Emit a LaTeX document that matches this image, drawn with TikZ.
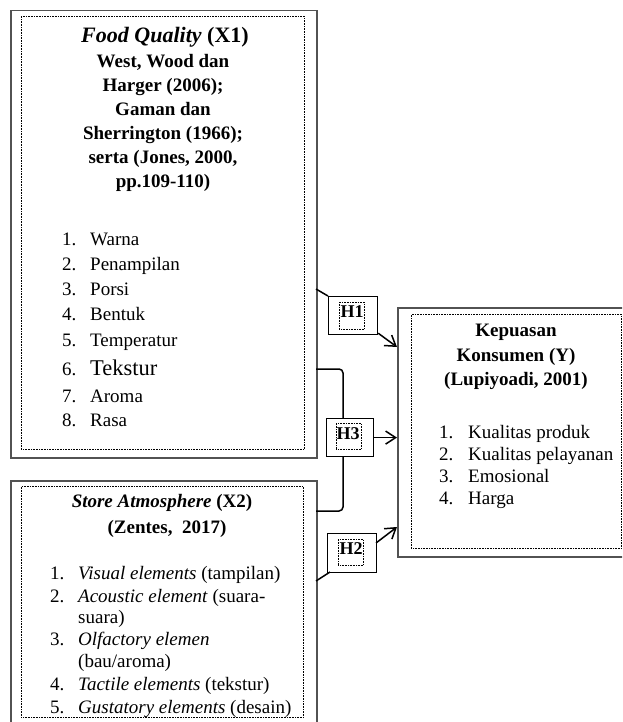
\documentclass[tikz,border=0pt]{standalone}
\usepackage{fontspec}
\setmainfont{Liberation Serif}
\usetikzlibrary{arrows.meta}
\begin{document}
\begin{tikzpicture}[x=1pt,y=-1pt,
  outerbox/.style={draw=black!68, line width=1.5pt, inner sep=0pt, anchor=north west},
  innerbox/.style={draw=black, line width=0.8pt, dash pattern=on 0.8pt off 0.8pt, inner sep=0pt, anchor=north west},
  hbox/.style={draw=black, line width=1.2pt, fill=white, inner sep=0pt, anchor=north west},
  txt/.style={inner sep=0pt, font=\fontsize{19}{24}\selectfont},
  ttl/.style={inner sep=0pt, anchor=base, font=\fontsize{19}{24}\selectfont\bfseries},
  lst/.style={txt, anchor=base west},
  conn/.style={line width=1.5pt},
  arr/.style={conn, -{Straight Barb[length=10pt,width=13pt,line width=1.5pt]}}
]
\useasboundingbox (0,0) rectangle (622,722);
\clip (0,0) rectangle (622,722);

% ---------- Box X1 ----------
\node[outerbox, minimum width=306pt, minimum height=447pt] (X1) at (10,10) {};
\node[innerbox, minimum width=283pt, minimum height=433pt] (X1i) at (21,16) {};
\node[ttl, font=\fontsize{22}{24}\selectfont\bfseries] (t11) at (165,43) {\textit{Food Quality} (X1)};
\node[ttl] (t12) at (163,67.5) {West, Wood dan};
\node[ttl] (t13) at (163,91.5) {Harger (2006);};
\node[ttl] (t14) at (163,115.5) {Gaman dan};
\node[ttl] (t15) at (163,139.5) {Sherrington (1966);};
\node[ttl] (t16) at (163,163.5) {serta (Jones, 2000,};
\node[ttl] (t17) at (163,187.5) {pp.109-110)};

\node[lst] (n11) at (62,245) {1.};  \node[lst] (l11) at (90,245) {Warna};
\node[lst] (n12) at (62,270) {2.};  \node[lst] (l12) at (90,270) {Penampilan};
\node[lst] (n13) at (62,295) {3.};  \node[lst] (l13) at (90,295) {Porsi};
\node[lst] (n14) at (62,320) {4.};  \node[lst] (l14) at (90,320) {Bentuk};
\node[lst] (n15) at (62,346) {5.};  \node[lst] (l15) at (90,346) {Temperatur};
\node[lst] (n16) at (62,375) {6.};  \node[lst, font=\fontsize{22.5}{26}\selectfont] (l16) at (90,375) {Tekstur};
\node[lst] (n17) at (62,402) {7.};  \node[lst] (l17) at (90,402) {Aroma};
\node[lst] (n18) at (62,426) {8.};  \node[lst] (l18) at (90,426) {Rasa};

% ---------- Box X2 ----------
\node[outerbox, minimum width=306pt, minimum height=260pt] (X2) at (10,480) {};
\node[innerbox, minimum width=282pt, minimum height=231pt] (X2i) at (21,486) {};
\node[ttl] (t21) at (162,507) {\textit{Store Atmosphere} (X2)};
\node[ttl] (t22) at (167,533) {(Zentes,\ \ 2017)};

\node[lst] (n21) at (50,579) {1.};  \node[lst] (l21) at (78,579) {\textit{Visual elements} (tampilan)};
\node[lst] (n22) at (50,602) {2.};  \node[lst] (l22) at (78,602) {\textit{Acoustic element} (suara-};
\node[lst] (l22b) at (78,623) {suara)};
\node[lst] (n23) at (50,645) {3.};  \node[lst] (l23) at (78,645) {\textit{Olfactory elemen}};
\node[lst] (l23b) at (78,667) {(bau/aroma)};
\node[lst] (n24) at (50,690) {4.};  \node[lst] (l24) at (78,690) {\textit{Tactile elements} (tekstur)};
\node[lst] (n25) at (50,713) {5.};  \node[lst] (l25) at (78,713) {\textit{Gustatory elements} (desain)};

% ---------- Box Y ----------
\node[outerbox, minimum width=240pt, minimum height=249pt] (Y) at (397,307) {};
\node[innerbox, minimum width=210pt, minimum height=234pt] (Yi) at (411,314) {};
\node[ttl] (ty1) at (516,336) {Kepuasan};
\node[ttl] (ty2) at (516,361) {Konsumen (Y)};
\node[ttl] (ty3) at (516,385) {(Lupiyoadi, 2001)};
\node[lst] (ny1) at (439,438) {1.};  \node[lst] (ly1) at (468,438) {Kualitas produk};
\node[lst] (ny2) at (439,460) {2.};  \node[lst] (ly2) at (468,460) {Kualitas pelayanan};
\node[lst] (ny3) at (439,482) {3.};  \node[lst] (ly3) at (468,482) {Emosional};
\node[lst] (ny4) at (439,504) {4.};  \node[lst] (ly4) at (468,504) {Harga};

% ---------- Hypothesis boxes ----------
\node[hbox, minimum width=49pt, minimum height=38pt] (H1) at (328,296) {};
\node[innerbox, minimum width=25pt, minimum height=27pt] (H1i) at (339,302) {};
\node[ttl, font=\fontsize{18}{22}\selectfont\bfseries] (h1t) at (352,317) {H1};

\node[hbox, minimum width=47pt, minimum height=38pt] (H3) at (326,418) {};
\node[innerbox, minimum width=25pt, minimum height=26pt] (H3i) at (336,423) {};
\node[ttl, font=\fontsize{18}{22}\selectfont\bfseries] (h3t) at (348,439) {H3};

\node[hbox, minimum width=49pt, minimum height=39pt] (H2) at (327,533) {};
\node[innerbox, minimum width=25pt, minimum height=26pt] (H2i) at (338,539) {};
\node[ttl, font=\fontsize{18}{22}\selectfont\bfseries] (h2t) at (351,554) {H2};

% ---------- Connectors ----------
\coordinate (a1) at (316,289);
\coordinate (y1) at (397,347);
\draw[conn] (a1) -- (H1.north west);
\draw[arr] ([yshift=2pt]H1.south east) -- (y1);

\coordinate (b1) at (316,369);
\coordinate (b2) at (343,418);
\coordinate (b3) at (343,456);
\coordinate (b4) at (316,511);
\draw[conn, rounded corners=4pt] (b1) -| (b2);
\draw[conn, rounded corners=4pt] (b3) |- (b4);
\draw[arr] (H3.east) -- (Y.west |- H3.east);

\coordinate (c1) at (316,581);
\coordinate (c2) at (330,572);
\coordinate (y2) at (397,527);
\coordinate (c3) at (376,543);
\draw[conn] (c1) -- (c2);
\draw[arr] (c3) -- (y2);
\end{tikzpicture}
\end{document}
